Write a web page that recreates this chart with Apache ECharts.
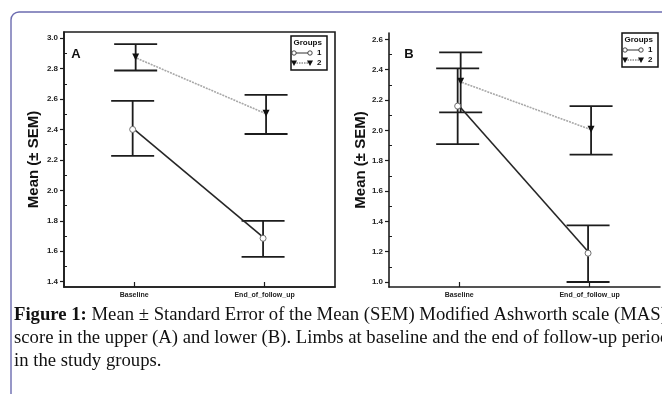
<!DOCTYPE html>
<html>
<head>
<meta charset="utf-8">
<script src="https://cdn.jsdelivr.net/npm/echarts@6/dist/echarts.min.js"></script>
<style>
html,body{margin:0;padding:0;background:#fff;}
#c{width:662px;height:394px;}
</style>
</head>
<body>
<div id="c"></div>
<script>
// ---- data ----
const categories = ['Baseline', 'End_of_follow_up'];
const groupNames = ['1', '2'];

// Panel A (upper limbs)
const aG1Mean  = [2.40, 1.685];
const aG1Upper = [2.587, 1.80];
const aG1Lower = [2.226, 1.563];
const aG2Mean  = [2.875, 2.507];
const aG2Upper = [2.96, 2.627];
const aG2Lower = [2.787, 2.37];

// Panel B (lower limbs)
const bG1Mean  = [2.16, 1.19];
const bG1Upper = [2.409, 1.374];
const bG1Lower = [1.909, 1.0];
const bG2Mean  = [2.323, 2.008];
const bG2Upper = [2.514, 2.16];
const bG2Lower = [2.118, 1.84];

// tick labels
const aTicks = [1.4, 1.6, 1.8, 2.0, 2.2, 2.4, 2.6, 2.8, 3.0];
const aMinor = [1.5, 1.7, 1.9, 2.1, 2.3, 2.5, 2.7, 2.9];
const bTicks = [1.0, 1.2, 1.4, 1.6, 1.8, 2.0, 2.2, 2.4, 2.6];
const bMinor = [1.1, 1.3, 1.5, 1.7, 1.9, 2.1, 2.3, 2.5];

const yTitle = 'Mean (± SEM)';
const captionBold = 'Figure 1:';
const captionLines = [
  ' Mean ± Standard Error of the Mean (SEM) Modified Ashworth scale (MAS)',
  'score in the upper (A) and lower (B). Limbs at baseline and the end of follow-up period',
  'in the study groups.'
];

// ---- styling ----
const INK = '#1c1c1c';
const SMALL_FONT = "'Liberation Sans', Arial, sans-serif";
const catPos = categories.map((c, i) => i + 1);

const chart = echarts.init(document.getElementById('c'), null, {renderer: 'canvas'});

function xAxisDef(gridIndex) {
  return {
    type: 'value', gridIndex, min: 0.462, max: 2.54,
    splitLine: {show: false},
    axisLine: {show: true, lineStyle: {color: INK, width: 1.6}},
    axisTick: {show: true, inside: true, length: 5, customValues: catPos, lineStyle: {color: INK, width: 1.2}},
    axisLabel: {
      show: true, customValues: catPos, margin: 5,
      formatter: v => categories[Math.round(v) - 1],
      fontFamily: SMALL_FONT, fontWeight: 'bold', fontSize: 7, color: '#222'
    }
  };
}
function yAxisDef(gridIndex, min, max, ticks, nameGap) {
  return {
    type: 'value', gridIndex, min, max, position: 'left',
    splitLine: {show: false},
    axisLine: {show: true, onZero: false, lineStyle: {color: INK, width: 1.6}},
    axisTick: {show: true, inside: false, length: 4, customValues: ticks, lineStyle: {color: INK, width: 1.2}},
    axisLabel: {
      show: true, customValues: ticks, margin: 6,
      formatter: v => v.toFixed(1),
      fontFamily: SMALL_FONT, fontWeight: 'bold', fontSize: 8, color: '#222'
    },
    name: yTitle, nameLocation: 'middle', nameGap,
    nameTextStyle: {fontFamily: "'Liberation Sans', Arial, sans-serif", fontWeight: 'bold', fontSize: 15, color: '#111'}
  };
}
function yMinorDef(gridIndex, min, max, minor) {
  return {
    type: 'value', gridIndex, min, max, position: 'left',
    splitLine: {show: false},
    axisLine: {show: false},
    axisTick: {show: true, inside: true, length: 3, customValues: minor, lineStyle: {color: INK, width: 1}},
    axisLabel: {show: false}
  };
}

function meanSeries(axisIdx, mean, g) {
  const isG1 = g === 0;
  return {
    type: 'line', name: groupNames[g],
    xAxisIndex: axisIdx, yAxisIndex: axisIdx * 2,
    data: mean.map((v, i) => [catPos[i], v]),
    symbol: isG1 ? 'circle' : 'triangle',
    symbolSize: isG1 ? 6 : 7,
    symbolRotate: isG1 ? 0 : 180,
    symbolOffset: [isG1 ? -1.5 : 1.5, 0],
    showSymbol: true,
    lineStyle: isG1 ? {color: '#262626', width: 1.6, type: 'solid'} : {color: '#a8a8a8', width: 1.6, type: [2, 1]},
    itemStyle: isG1 ? {color: '#ffffff', borderColor: '#707070', borderWidth: 1} : {color: '#111', borderWidth: 0},
    z: 5, animation: false, silent: true
  };
}
function errSeries(axisIdx, mean, lower, upper, g) {
  const off = g === 0 ? -1.5 : 1.5;
  return {
    type: 'custom', xAxisIndex: axisIdx, yAxisIndex: axisIdx * 2,
    data: mean.map((v, i) => [catPos[i], lower[i], upper[i]]),
    renderItem: (params, api) => {
      const lo = api.coord([api.value(0), api.value(1)]);
      const hi = api.coord([api.value(0), api.value(2)]);
      const x = lo[0] + off;
      const hw = 21.5;
      const st = {stroke: INK, lineWidth: 1.8};
      return {
        type: 'group',
        children: [
          {type: 'line', shape: {x1: x, y1: lo[1], x2: x, y2: hi[1]}, style: st},
          {type: 'line', shape: {x1: x - hw, y1: lo[1], x2: x + hw, y2: lo[1]}, style: st},
          {type: 'line', shape: {x1: x - hw, y1: hi[1], x2: x + hw, y2: hi[1]}, style: st}
        ]
      };
    },
    z: 3, animation: false, silent: true
  };
}

function legendBox(x, y) {
  const tf = {fontFamily: SMALL_FONT, fontWeight: 'bold', fontSize: 8, fill: '#111'};
  const tri = (cx, cy) => ({type: 'polygon', shape: {points: [[cx - 3, cy - 2.5], [cx + 3, cy - 2.5], [cx, cy + 3]]}, style: {fill: '#111'}});
  const circ = (cx, cy) => ({type: 'circle', shape: {cx, cy, r: 2.2}, style: {fill: '#fff', stroke: '#333', lineWidth: 0.9}});
  return {
    type: 'group', x, y,
    children: [
      {type: 'rect', shape: {x: 0, y: 0, width: 36, height: 34}, style: {fill: '#fff', stroke: '#111', lineWidth: 1.5}},
      {type: 'text', x: 2.5, y: 6.5, style: Object.assign({text: 'Groups', textVerticalAlign: 'middle'}, tf)},
      {type: 'line', shape: {x1: 3, y1: 17, x2: 19, y2: 17}, style: {stroke: '#333', lineWidth: 1}},
      circ(3, 17), circ(19, 17),
      {type: 'text', x: 26, y: 17, style: Object.assign({text: groupNames[0], textVerticalAlign: 'middle'}, tf)},
      {type: 'line', shape: {x1: 3, y1: 27, x2: 19, y2: 27}, style: {stroke: '#555', lineWidth: 1, lineDash: [1.5, 1]}},
      tri(3, 27), tri(19, 27),
      {type: 'text', x: 26, y: 27, style: Object.assign({text: groupNames[1], textVerticalAlign: 'middle'}, tf)}
    ]
  };
}

const captionFont = "'Liberation Serif', 'Times New Roman', serif";
const CAP_SIZE = 18.7;
const capStyle = {fontFamily: captionFont, fontSize: CAP_SIZE, fill: '#111', textVerticalAlign: 'middle'};

const option = {
  backgroundColor: '#ffffff',
  animation: false,
  grid: [
    {left: 64, top: 32, width: 271, height: 255, show: true, borderColor: INK, borderWidth: 1.6, backgroundColor: 'transparent'},
    {left: 389, top: 33, right: 2, height: 254}
  ],
  xAxis: [xAxisDef(0), xAxisDef(1)],
  yAxis: [
    yAxisDef(0, 1.365, 3.04, aTicks, 23),
    yMinorDef(0, 1.365, 3.04, aMinor),
    yAxisDef(1, 0.967, 2.642, bTicks, 18),
    yMinorDef(1, 0.967, 2.642, bMinor)
  ],
  series: [
    errSeries(0, aG1Mean, aG1Lower, aG1Upper, 0),
    errSeries(0, aG2Mean, aG2Lower, aG2Upper, 1),
    meanSeries(0, aG2Mean, 1),
    meanSeries(0, aG1Mean, 0),
    errSeries(1, bG1Mean, bG1Lower, bG1Upper, 0),
    errSeries(1, bG2Mean, bG2Lower, bG2Upper, 1),
    meanSeries(1, bG2Mean, 1),
    meanSeries(1, bG1Mean, 0)
  ],
  graphic: [
    {type: 'rect', shape: {x: 11, y: 12, width: 800, height: 500, r: 8}, style: {fill: 'none', stroke: '#6c6cb0', lineWidth: 1.4}, z: 0},
    {type: 'text', x: 76, y: 54, style: {text: 'A', fontFamily: "'Liberation Sans', Arial, sans-serif", fontWeight: 'bold', fontSize: 13, fill: '#111', textAlign: 'center', textVerticalAlign: 'middle'}},
    {type: 'text', x: 409, y: 54, style: {text: 'B', fontFamily: "'Liberation Sans', Arial, sans-serif", fontWeight: 'bold', fontSize: 13, fill: '#111', textAlign: 'center', textVerticalAlign: 'middle'}},
    legendBox(291, 36),
    legendBox(622, 33),
    {type: 'text', x: 14, y: 315, style: Object.assign({
      text: '{b|' + captionBold + '}' + captionLines[0],
      rich: {b: {fontFamily: captionFont, fontWeight: 'bold', fontSize: CAP_SIZE, fill: '#111'}}}, capStyle)},
    {type: 'text', x: 14, y: 338, style: Object.assign({text: captionLines[1]}, capStyle)},
    {type: 'text', x: 14, y: 361, style: Object.assign({text: captionLines[2]}, capStyle)}
  ]
};
chart.setOption(option);
</script>
</body>
</html>
